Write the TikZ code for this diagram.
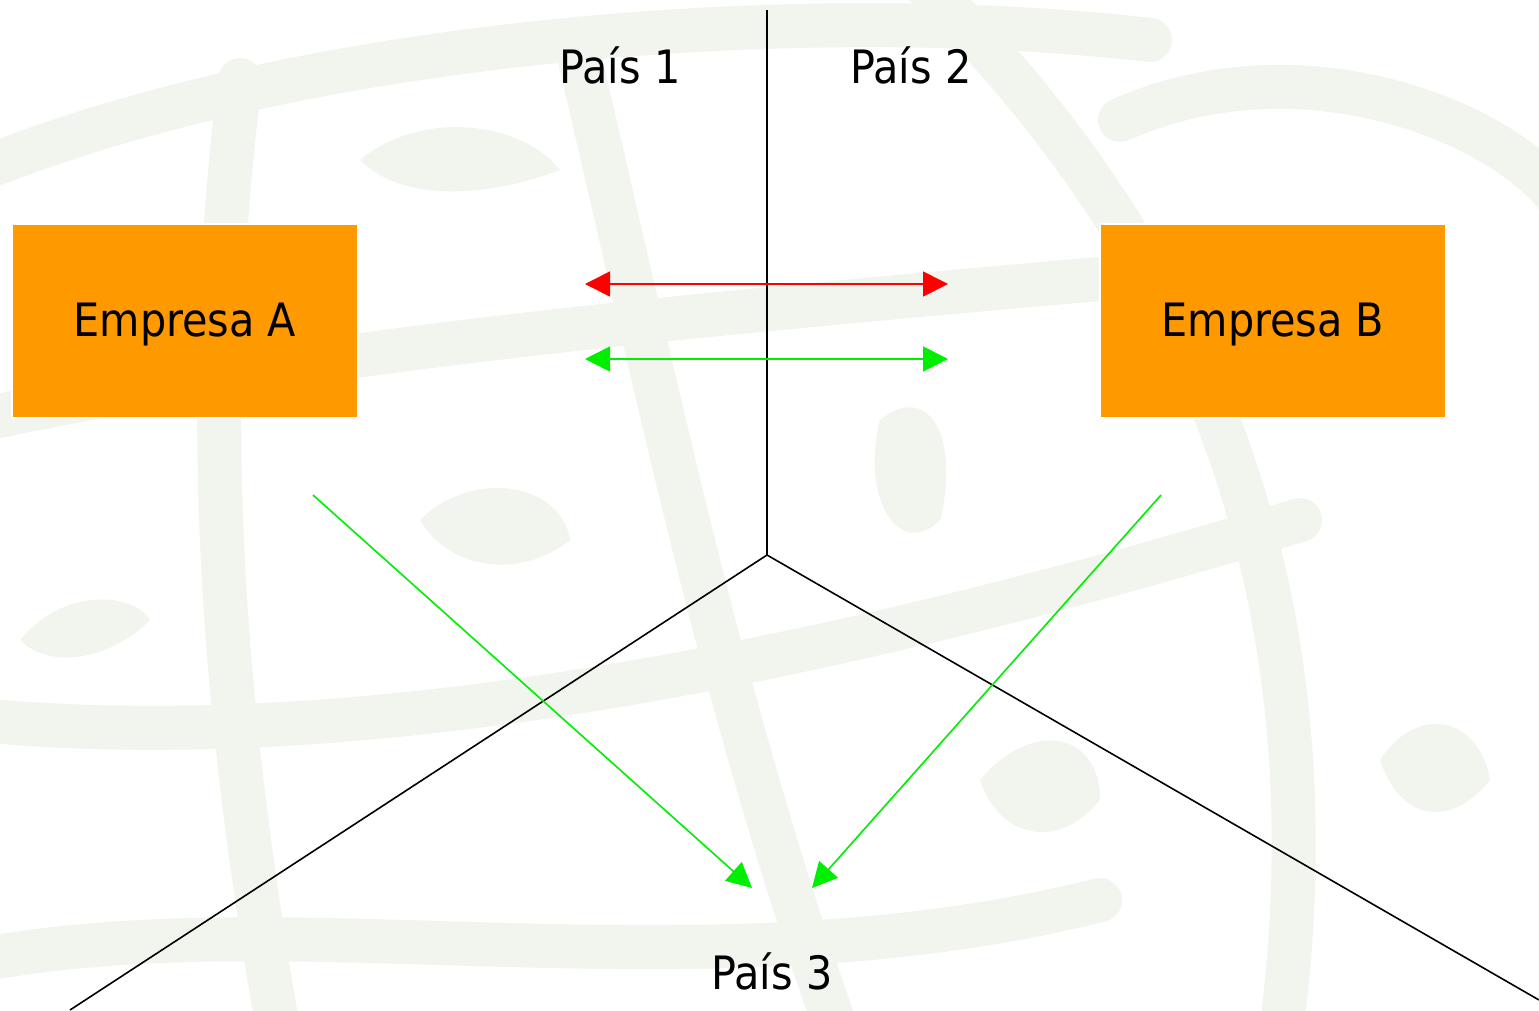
\documentclass[tikz,border=0pt]{standalone}
\usepackage{fontspec}
\setmainfont{DejaVu Sans Condensed}
\usetikzlibrary{arrows.meta}
\definecolor{boxorange}{HTML}{FF9900}
\definecolor{globetint}{HTML}{F1F5EE}
\definecolor{linkgreen}{HTML}{00EE00}
\tikzset{
  company/.style={draw=white, line width=1.5pt, fill=boxorange, minimum width=346pt, minimum height=194pt, font=\fontsize{46}{50}\selectfont},
  country/.style={font=\fontsize{46}{50}\selectfont},
  border/.style={black, line width=1.6pt},
  tip/.style={-{Triangle[length=25pt,width=25pt]}},
  both/.style={{Triangle[length=25pt,width=25pt]}-{Triangle[length=25pt,width=25pt]}},
  globe/.style={draw=globetint, line width=44pt, line cap=round},
  leaf/.style={fill=globetint, draw=none}
}
\begin{document}
\begin{tikzpicture}[x=1pt, y=-1pt]
\useasboundingbox (0,0) rectangle (1539,1010);
\fill[white] (0,0) rectangle (1539,1010);

% faint globe watermark in the background
\begin{scope}
\clip (0,0) rectangle (1539,1010);
\draw[globe] (-20,170) .. controls (300,40) and (800,0) .. (1150,40);
\draw[globe] (-20,420) .. controls (400,330) and (900,300) .. (1300,260);
\draw[globe] (-20,720) .. controls (400,760) and (900,640) .. (1300,520);
\draw[globe] (240,80) .. controls (200,400) and (220,700) .. (280,1040);
\draw[globe] (580,60) .. controls (660,400) and (720,700) .. (840,1040);
\draw[globe] (920,-20) .. controls (1200,250) and (1340,600) .. (1280,1040);
\draw[globe] (1120,120) .. controls (1300,40) and (1500,120) .. (1560,200);
\draw[globe] (-20,960) .. controls (300,900) and (700,1000) .. (1100,900);
\fill[leaf] (360,160) .. controls (420,110) and (520,120) .. (560,170) .. controls (480,200) and (400,200) .. (360,160);
\fill[leaf] (880,420) .. controls (930,380) and (960,440) .. (940,520) .. controls (900,560) and (860,500) .. (880,420);
\fill[leaf] (20,640) .. controls (60,590) and (130,590) .. (150,620) .. controls (110,660) and (50,670) .. (20,640);
\fill[leaf] (420,520) .. controls (470,470) and (560,480) .. (570,540) .. controls (520,580) and (450,570) .. (420,520);
\fill[leaf] (1380,760) .. controls (1420,700) and (1480,720) .. (1490,780) .. controls (1450,830) and (1400,820) .. (1380,760);
\fill[leaf] (980,780) .. controls (1030,720) and (1100,730) .. (1100,800) .. controls (1060,850) and (1000,840) .. (980,780);
\end{scope}

% country borders
\coordinate (top) at (767,10);
\coordinate (hub) at (767,555);
\coordinate (sw) at (70,1010);
\coordinate (se) at (1539,1000);
\draw[border] (top) -- (hub);
\draw[border] (hub) -- (sw);
\draw[border] (hub) -- (se);

% country labels
\node[country] (p1) at (620,65) {País 1};
\node[country] (p2) at (911,65) {País 2};
\node[country] (p3) at (772,971) {País 3};

% companies
\node[company] (ea) at (185,321) {};
\node[company] (eb) at (1273,321) {};
\node[country] (ta) at (185,325) {Empresa A};
\node[country] (tb) at (1273,325) {Empresa B};

% relations between the companies
\coordinate (r1) at (585,284);
\coordinate (r2) at (948,284);
\coordinate (g1) at (585,359);
\coordinate (g2) at (948,359);
\draw[both, red, line width=1.6pt] (r1) -- (r2);
\draw[both, linkgreen, line width=1.6pt] (g1) -- (g2);

% investment flows into the third country
\coordinate (a0) at (313,495);
\coordinate (a1) at (752,888);
\coordinate (b0) at (1161,495);
\coordinate (b1) at (812,888);
\draw[tip, linkgreen, line width=1.6pt] (a0) -- (a1);
\draw[tip, linkgreen, line width=1.6pt] (b0) -- (b1);
\end{tikzpicture}
\end{document}
